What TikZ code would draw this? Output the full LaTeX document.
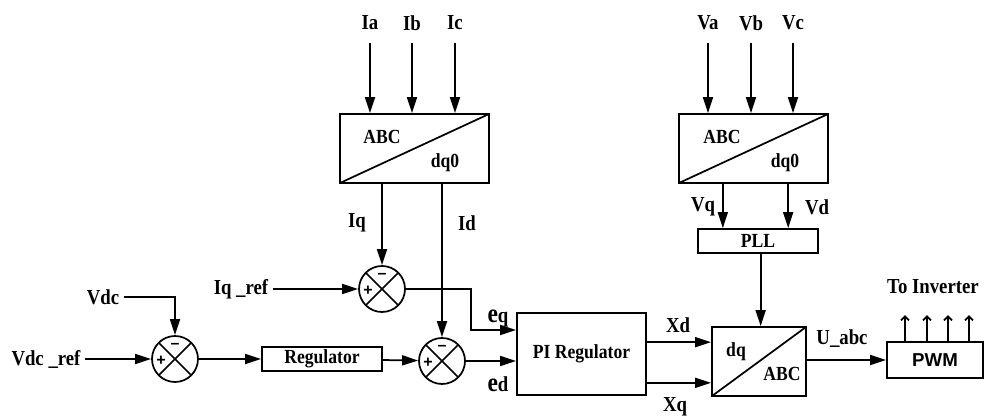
\documentclass[tikz,border=0pt]{standalone}
\usepackage{fontspec}
\setmainfont{Liberation Serif}[FakeStretch=0.88]
\newfontfamily\arialfont{Liberation Sans}
\usetikzlibrary{arrows.meta}

\begin{document}
\begin{tikzpicture}[x=0.75pt, y=-0.75pt,
                    every node/.style={font=\fontsize{16}{18}\selectfont\bfseries},
                    arr/.style={line width=1.3pt, -{Triangle[length=12pt, width=7.5pt]}},
                    blk/.style={rectangle, draw, line width=1.3pt, inner sep=0pt, font=\fontsize{15}{17}\selectfont\bfseries},
                    conv/.style={blk, minimum width=111.75pt, minimum height=51.75pt,
                        path picture={\draw[line width=1.3pt] (path picture bounding box.south west) -- (path picture bounding box.north east);}},
                    inbox/.style={font=\fontsize{15}{17}\selectfont\bfseries},
                    sumcirc/.style={circle, draw, line width=1.3pt, minimum size=34.5pt, inner sep=0pt,
                        path picture={
                            \draw[line width=1.3pt] (path picture bounding box.north west) -- (path picture bounding box.south east)
                                (path picture bounding box.south west) -- (path picture bounding box.north east);
                            \node[font=\arialfont\fontsize{12}{12}\selectfont\bfseries] at ([yshift=10pt]path picture bounding box.center) {\textendash};
                            \node[font=\arialfont\fontsize{12}{12}\selectfont\bfseries] at ([xshift=-10.5pt, yshift=-1pt]path picture bounding box.center) {+};
                        }}
                ]
                \useasboundingbox (0,0) rectangle (984,416);

                % transformations ABC -> dq0
                \node[conv] (abcI) at (414.5,148.5) {};
                \node[conv] (abcV) at (753.5,148.5) {};
                \node[inbox] (abcIin) at (382,137) {ABC};
                \node[inbox] (abcIout) at (445,163) {dq0};
                \node[inbox] (abcVin) at (722,137) {ABC};
                \node[inbox] (abcVout) at (785,163) {dq0};
                \foreach \lbl/\x in {Ia/370, Ib/412, Ic/455, Va/708, Vb/751, Vc/793} {
                    \node (\lbl) at (\x,23) {\lbl};
                    \draw[arr, shorten <=6pt] (\lbl) -- (\lbl |- abcI.north);
                }

                \node[blk, minimum width=90pt, minimum height=18pt] (pll) at (758,241) {PLL};
                \node (vq) at (703,207) {Vq};
                \node (vd) at (817,207) {Vd};
                \draw[arr] ([xshift=-23pt]abcV.south) -- ([xshift=-23pt]abcV.south |- pll.north);
                \draw[arr] ([xshift=26pt]abcV.south) -- ([xshift=26pt]abcV.south |- pll.north);

                % boucles de courant
                \node[sumcirc] (sA) at (175,359) {};
                \node[sumcirc] (sB) at (382,289) {};
                \node[sumcirc] (sC) at (442,361) {};
                \node[blk, minimum width=90pt, minimum height=18pt] (reg) at (322,359) {Regulator};
                \node[blk, minimum width=96.75pt, minimum height=61.5pt] (pi) at (581.5,354) {PI Regulator};
                \node[conv, minimum width=70.5pt] (dqabc) at (759,361.5) {};
                \node[inbox] (dqabcin) at (736,352) {dq};
                \node[inbox] (dqabcout) at (782,374) {ABC};
                \node[blk, minimum width=72pt, minimum height=27pt, font=\arialfont\fontsize{14}{16}\selectfont\bfseries] (pwm) at (935,360) {PWM};

                \node (vdc) at (103,297) {Vdc};
                \node (vdcref) at (46,359) {Vdc \_ref};
                \node (iqref) at (241,289) {Iq \_ref};
                \node (iq) at (357,223) {Iq};
                \node (id) at (467,223) {Id};
                \node (eq) at (498,319) {{\fontsize{20}{20}\selectfont e}q};
                \node (ed) at (498,384) {{\fontsize{20}{20}\selectfont e}d};
                \node (xd) at (678,325) {Xd};
                \node (xq) at (675,407) {Xq};
                \node (uabc) at (842,339) {U\_abc};
                \node (toinv) at (933,287) {To Inverter};

                \draw[arr] (vdcref) -- (sA);
                \draw[arr] (vdc) -| (sA);
                \draw[arr] (sA) -- (reg);
                \draw[arr] (reg) -- (sC);
                \draw[arr] (iqref) -- (sB);
                \draw[arr] (sB |- abcI.south) -- (sB);
                \draw[arr] (sC |- abcI.south) -- (sC);
                \draw[arr] (sB.east) -- ++(65,0) |- ([yshift=18pt]pi.west);
                \draw[arr] (sC) -- (sC -| pi.west);
                \draw[arr] ([yshift=14.5pt]dqabc.west -| pi.east) -- ([yshift=14.5pt]dqabc.west);
                \draw[arr] ([yshift=-16pt]dqabc.west -| pi.east) -- ([yshift=-16pt]dqabc.west);
                \draw[arr] ([xshift=2pt]pll.south) -- ([xshift=2pt]pll.south |- dqabc.north);
                \draw[arr] (dqabc.east |- pwm.west) -- (pwm.west);
                \foreach \dx in {-22.5,-6,9.75,25.5}
                    \draw[line width=1.3pt, -{Straight Barb[length=3pt, width=6pt]}] ([xshift=\dx pt]pwm.north) -- ++(0,-26);
                \end{tikzpicture}
\end{document}
